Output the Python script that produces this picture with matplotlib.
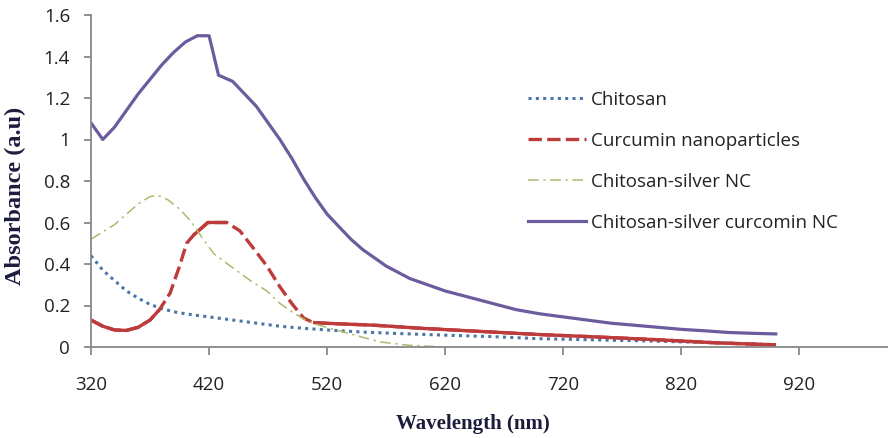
import numpy as np
import matplotlib
matplotlib.use("Agg")
import matplotlib.pyplot as plt

# UV-vis absorbance spectra (wavelength in nm, absorbance in a.u)
wl_chitosan = [320, 330, 340, 350, 360, 370, 380, 390, 400, 410, 420, 440, 460, 480,
               500, 520, 550, 580, 620, 660, 700, 750, 800, 850, 900]
abs_chitosan = [0.44, 0.37, 0.32, 0.27, 0.235, 0.205, 0.185, 0.17, 0.16, 0.152, 0.145,
                0.13, 0.115, 0.10, 0.09, 0.082, 0.072, 0.065, 0.057, 0.05, 0.04, 0.034,
                0.028, 0.02, 0.012]

wl_curcumin = [320, 330, 340, 350, 360, 370, 378, 387, 395, 401, 407, 419, 435, 446,
               457, 469, 480, 490, 500, 508, 520, 560, 600, 650, 700, 750, 800, 850, 900]
abs_curcumin = [0.13, 0.10, 0.082, 0.08, 0.095, 0.13, 0.18, 0.26, 0.39, 0.50, 0.54, 0.60,
                0.60, 0.56, 0.48, 0.39, 0.29, 0.21, 0.14, 0.118, 0.114, 0.105, 0.09,
                0.075, 0.06, 0.048, 0.035, 0.02, 0.01]

wl_cs_ag = [320, 330, 340, 350, 360, 370, 377, 385, 395, 404, 415, 424, 438, 455, 469,
            480, 490, 500, 510, 537, 565, 590, 620]
abs_cs_ag = [0.52, 0.555, 0.59, 0.64, 0.69, 0.725, 0.73, 0.71, 0.665, 0.61, 0.52, 0.45,
             0.39, 0.32, 0.27, 0.21, 0.17, 0.135, 0.11, 0.067, 0.024, 0.008, 0.0]

wl_cs_ag_cur = [320, 330, 340, 350, 360, 370, 380, 390, 400, 410, 420, 428, 440, 450,
                460, 470, 480, 490, 500, 510, 520, 530, 540, 550, 560, 570, 580, 590,
                600, 620, 640, 660, 680, 700, 720, 740, 760, 780, 800, 820, 840, 860,
                880, 900]
abs_cs_ag_cur = [1.08, 1.00, 1.06, 1.14, 1.22, 1.29, 1.36, 1.42, 1.47, 1.50, 1.50, 1.31,
                 1.28, 1.22, 1.16, 1.08, 1.00, 0.91, 0.81, 0.72, 0.64, 0.58, 0.52, 0.47,
                 0.43, 0.39, 0.36, 0.33, 0.31, 0.27, 0.24, 0.21, 0.18, 0.16, 0.145,
                 0.13, 0.115, 0.105, 0.095, 0.085, 0.078, 0.07, 0.066, 0.063]

labels = ["Chitosan", "Curcumin nanoparticles", "Chitosan-silver NC",
          "Chitosan-silver curcomin NC"]

c_blue = "#4a76a8"
c_red = "#bd3b3b"
c_green = "#abbb6c"
c_purple = "#6c5c9e"

fig = plt.figure(figsize=(8.88, 4.38), dpi=100)
ax = fig.add_axes([91 / 888, 1 - 347 / 438, 1 - 91 / 888, 332 / 438])

ax.plot(wl_chitosan, abs_chitosan, color=c_blue, lw=2.2, linestyle=(0, (1, 1.4)),
        label=labels[0])
ax.plot(wl_curcumin, abs_curcumin, color=c_red, lw=2.4, linestyle=(0, (4, 1.6)),
        label=labels[1])
# the flat parts of the curcumin trace render as a continuous line
wl_c = np.array(wl_curcumin)
abs_c = np.array(abs_curcumin)
for lo, hi in [(320, 378), (405, 440), (505, 900)]:
    m = (wl_c >= lo) & (wl_c <= hi)
    ax.plot(wl_c[m], abs_c[m], color=c_red, lw=2.4, solid_capstyle="butt")
ax.plot(wl_cs_ag, abs_cs_ag, color=c_green, lw=1.1, linestyle=(0, (7, 3, 1.5, 3)),
        label=labels[2])
ax.plot(wl_cs_ag_cur, abs_cs_ag_cur, color=c_purple, lw=2.3, label=labels[3])

ax.set_xlim(320, 995)
ax.set_ylim(0, 1.6)
ax.set_xticks(np.arange(320, 921, 100))
ax.set_yticks(np.arange(0, 1.61, 0.2))
ax.set_yticklabels(["0", "0.2", "0.4", "0.6", "0.8", "1", "1.2", "1.4", "1.6"])

for side in ["top", "right"]:
    ax.spines[side].set_visible(False)
for side in ["left", "bottom"]:
    ax.spines[side].set_color("#888888")
    ax.spines[side].set_linewidth(1.3)

ax.tick_params(axis="both", colors="#888888", labelcolor="#222222", width=1.3,
               labelsize=13.5, labelfontfamily="Open Sans")
ax.tick_params(axis="x", length=6, pad=15)
ax.tick_params(axis="y", length=5, pad=10)

ax.set_xlabel("Wavelength (nm)", family="Liberation Serif", fontweight="bold",
              fontsize=15, color="#1c1c3c", va="center", ha="center")
ax.xaxis.set_label_coords((473 - 91) / (888 - 91), -(424 - 347) / 332)
ax.set_ylabel("Absorbance (a.u)", family="Liberation Serif", fontweight="bold",
              fontsize=17.5, color="#1c1c3c", va="center", ha="center")
ax.yaxis.set_label_coords(-(91 - 15) / (888 - 91), (347 - 196) / 332)

leg = ax.legend(loc="upper left", bbox_to_anchor=(528 / 888, 1 - 91 / 438),
                bbox_transform=fig.transFigure, frameon=False, borderpad=0,
                borderaxespad=0, handlelength=3.1, handletextpad=0.25,
                labelspacing=1.22, prop={"family": "Open Sans", "size": 13.5})
for t in leg.get_texts():
    t.set_color("#222222")

fig.savefig("out.png", dpi=100)
